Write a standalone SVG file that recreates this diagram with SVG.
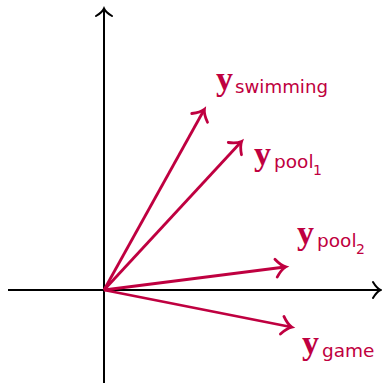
<svg xmlns="http://www.w3.org/2000/svg" width="382" height="383" viewBox="0 0 382 383">
<style>
.ax{stroke:#000;stroke-width:2;fill:none}
.vec{stroke:#bf0040;stroke-width:2.8;fill:none}
.y{font-family:"Liberation Serif",serif;font-weight:bold;font-size:34px;fill:#bf0040}
.s{font-family:"DejaVu Sans",sans-serif;font-size:18.5px;fill:#bf0040}
.ss{font-family:"DejaVu Sans",sans-serif;font-size:14px;fill:#bf0040}
</style>
<defs>
<marker id="ak" markerUnits="userSpaceOnUse" markerWidth="24" markerHeight="24" viewBox="-12 -12 24 24" refX="0" refY="0" orient="auto">
<path d="M-7,-8 C-4,-3 -1.5,-0.9 0.5,0 C-1.5,0.9 -4,3 -7,8" fill="none" stroke="#000" stroke-width="2" stroke-linecap="round"/>
</marker>
<marker id="ar" markerUnits="userSpaceOnUse" markerWidth="26" markerHeight="26" viewBox="-13 -13 26 26" refX="0" refY="0" orient="auto">
<path d="M-9,-9 C-5,-3.5 -1.8,-1.1 0.8,0 C-1.8,1.1 -5,3.5 -9,9" fill="none" stroke="#bf0040" stroke-width="2.8" stroke-linecap="round"/>
</marker>
</defs>
<g id="connectors">
<line id="xaxis" class="ax" x1="8" y1="290" x2="380" y2="290" marker-end="url(#ak)"/>
<line id="yaxis" class="ax" x1="104" y1="383" x2="104" y2="9" marker-end="url(#ak)"/>
<line class="vec" x1="104" y1="290" x2="204" y2="110" marker-end="url(#ar)"/>
<line class="vec" x1="104" y1="290" x2="241" y2="142" marker-end="url(#ar)"/>
<line class="vec" x1="104" y1="290" x2="285" y2="267" marker-end="url(#ar)"/>
<line class="vec" x1="104" y1="290" x2="291" y2="327" marker-end="url(#ar)"/>
</g>
<g id="label-swimming">
<text class="y" x="216" y="90">y</text>
<text class="s" x="235" y="93" textLength="93" lengthAdjust="spacingAndGlyphs">swimming</text>
</g>
<g id="label-pool1">
<text class="y" x="254" y="165">y</text>
<text class="s" x="274" y="168">pool</text>
<text class="ss" x="313" y="175">1</text>
</g>
<g id="label-pool2">
<text class="y" x="297" y="244">y</text>
<text class="s" x="317" y="247">pool</text>
<text class="ss" x="356" y="254">2</text>
</g>
<g id="label-game">
<text class="y" x="302" y="354">y</text>
<text class="s" x="322" y="357">game</text>
</g>
</svg>
